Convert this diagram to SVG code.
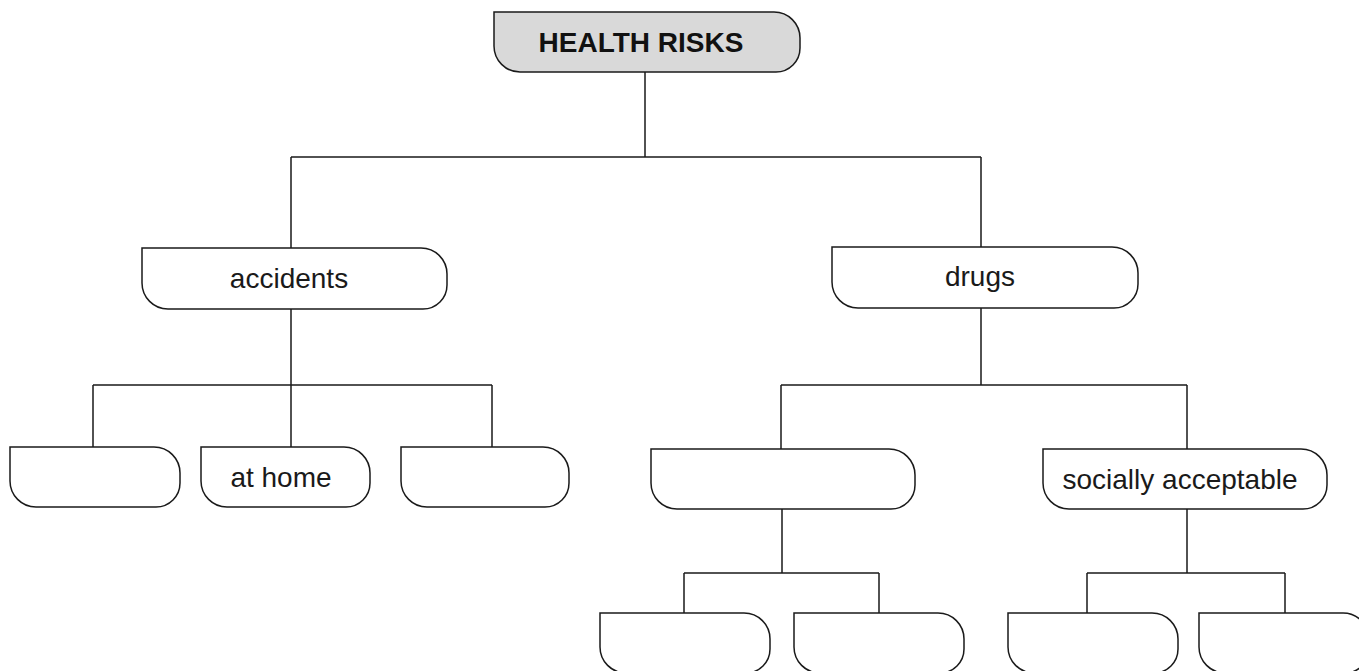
<svg xmlns="http://www.w3.org/2000/svg" width="1359" height="671" viewBox="0 0 1359 671">
<style>
.box{fill:#ffffff;stroke:#1a1a1a;stroke-width:1.5}
.root{fill:#d9d9d9}
.ln{fill:none;stroke:#1a1a1a;stroke-width:1.5}
.t{font-family:"Liberation Sans",Arial,sans-serif;font-size:28px;fill:#1a1a1a;text-anchor:middle}
.tb{font-weight:bold;fill:#111111}
</style>
<rect width="1359" height="671" fill="#ffffff"/>
<g id="connectors">
<path class="ln" d="M645 72V157M291 157H981M291 157V248M981 157V247"/>
<path class="ln" d="M291 309V385M93 385H492M93 385V447M291 385V447M492 385V447"/>
<path class="ln" d="M981 308V385M781 385H1187M781 385V449M1187 385V449"/>
<path class="ln" d="M782 509V573M684 573H879M684 573V613M879 573V613"/>
<path class="ln" d="M1187 509V573M1087 573H1285M1087 573V613M1285 573V613"/>
</g>
<g id="n-health">
<path class="box root" d="M494 12H774A26 26 0 0 1 800 38V48A24 24 0 0 1 776 72H520A26 26 0 0 1 494 46Z"/>
<text class="t tb" x="641" y="52">HEALTH RISKS</text>
</g>
<g id="n-accidents">
<path class="box" d="M142 248H421A26 26 0 0 1 447 274V285A24 24 0 0 1 423 309H168A26 26 0 0 1 142 283Z"/>
<text class="t" x="289" y="288">accidents</text>
</g>
<g id="n-drugs">
<path class="box" d="M832 247H1112A26 26 0 0 1 1138 273V284A24 24 0 0 1 1114 308H858A26 26 0 0 1 832 282Z"/>
<text class="t" x="980" y="286">drugs</text>
</g>
<g id="n-acc1">
<path class="box" d="M10 447H154A26 26 0 0 1 180 473V483A24 24 0 0 1 156 507H36A26 26 0 0 1 10 481Z"/>
</g>
<g id="n-athome">
<path class="box" d="M201 447H344A26 26 0 0 1 370 473V483A24 24 0 0 1 346 507H227A26 26 0 0 1 201 481Z"/>
<text class="t" x="281" y="487">at home</text>
</g>
<g id="n-acc3">
<path class="box" d="M401 447H543A26 26 0 0 1 569 473V483A24 24 0 0 1 545 507H427A26 26 0 0 1 401 481Z"/>
</g>
<g id="n-drugs1">
<path class="box" d="M651 449H889A26 26 0 0 1 915 475V485A24 24 0 0 1 891 509H677A26 26 0 0 1 651 483Z"/>
</g>
<g id="n-social">
<path class="box" d="M1043 449H1301A26 26 0 0 1 1327 475V485A24 24 0 0 1 1303 509H1069A26 26 0 0 1 1043 483Z"/>
<text class="t" x="1180" y="489">socially acceptable</text>
</g>
<g id="n-d11">
<path class="box" d="M600 613H744A26 26 0 0 1 770 639V649A24 24 0 0 1 746 673H626A26 26 0 0 1 600 647Z"/>
</g>
<g id="n-d12">
<path class="box" d="M794 613H938A26 26 0 0 1 964 639V649A24 24 0 0 1 940 673H820A26 26 0 0 1 794 647Z"/>
</g>
<g id="n-d21">
<path class="box" d="M1008 613H1152A26 26 0 0 1 1178 639V649A24 24 0 0 1 1154 673H1034A26 26 0 0 1 1008 647Z"/>
</g>
<g id="n-d22">
<path class="box" d="M1199 613H1343A26 26 0 0 1 1369 639V649A24 24 0 0 1 1345 673H1225A26 26 0 0 1 1199 647Z"/>
</g>
</svg>
